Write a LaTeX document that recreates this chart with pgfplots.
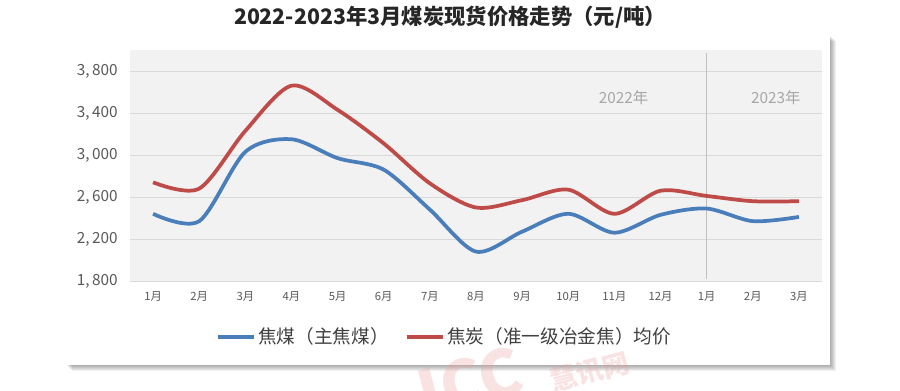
\documentclass[border=0pt]{standalone}
\usepackage{pgfplots}
\pgfplotsset{compat=1.18}
\usepackage{fontspec}
\setmainfont{Noto Sans CJK SC}
\definecolor{cblue}{HTML}{4A7EBB}
\definecolor{cred}{HTML}{BE4B48}
\definecolor{gridc}{HTML}{D9D9D9}
\definecolor{bgc}{HTML}{F2F2F2}
\definecolor{tickc}{HTML}{595959}
\definecolor{legc}{HTML}{404040}
\definecolor{yearc}{HTML}{A6A6A6}
\definecolor{wm}{HTML}{E8A0A0}
\begin{document}
\begin{tikzpicture}[x=0.75pt,y=0.75pt]
\useasboundingbox (0,0) rectangle (900,390);
\fill[white] (0,0) rectangle (900,390);
\foreach \s in {1,...,6} {\fill[black,opacity=0.06] (66+\s,25-\s) rectangle (830+\s,355-\s);}
\fill[white] (66,25) rectangle (830,355);
\node[font=\fontsize{16}{18}\selectfont\bfseries, text=black!85] at (450,373) {2022-2023年3月煤炭现货价格走势（元/吨）};
\begin{axis}[
  at={(97.5pt,81.75pt)}, anchor=south west, scale only axis,
  width=519pt, height=173.25pt,
  xmin=-0.5, xmax=14.5, ymin=1800, ymax=4000,
  axis background/.style={fill=bgc},
  axis line style={draw=none},
  major tick length=0pt,
  ymajorgrids, grid style={gridc, line width=0.75pt},
  xtick={0,...,14},
  xticklabels={1月,2月,3月,4月,5月,6月,7月,8月,9月,10月,11月,12月,1月,2月,3月},
  ytick={1800,2200,2600,3000,3400,3800},
  yticklabels={{1,\,800},{2,\,200},{2,\,600},{3,\,000},{3,\,400},{3,\,800}},
  xticklabel style={anchor=center, yshift=-11.25pt, font=\fontsize{8.5}{9}\selectfont, text=tickc},
  yticklabel style={anchor=east, inner sep=0pt, xshift=-9pt, font=\fontsize{11.5}{12}\selectfont, text=tickc},
  legend style={at={(0.455,-0.242)}, anchor=center, draw=none, fill=none,
    legend columns=2, font=\fontsize{14}{15}\selectfont, text=legc,
    /tikz/every even column/.append style={column sep=10pt}},
  legend image code/.code={\draw[#1] (0pt,0pt) -- (27pt,0pt);},
  clip=false,
]
\draw[black!25, line width=0.75pt] (axis cs:12,1819) -- (axis cs:12,3971);
\node[text=yearc, font=\fontsize{11.5}{13}\selectfont] at (axis cs:10.2,3543) {2022年};
\node[text=yearc, font=\fontsize{11.5}{13}\selectfont] at (axis cs:13.5,3543) {2023年};
\addplot[cblue, line width=2.8pt, smooth] coordinates {
(0,2440) (1,2370) (2,3030) (3,3150) (4,2970) (5,2860) (6,2480) (7,2080)
(8,2270) (9,2440) (10,2260) (11,2430) (12,2490) (13,2370) (14,2410)};
\addlegendentry{焦煤（主焦煤）}
\addplot[cred, line width=2.8pt, smooth] coordinates {
(0,2740) (1,2680) (2,3230) (3,3660) (4,3430) (5,3110) (6,2730) (7,2500)
(8,2570) (9,2670) (10,2440) (11,2660) (12,2610) (13,2560) (14,2560)};
\addlegendentry{焦炭（准一级冶金焦）均价}
\end{axis}
\begin{scope}
\clip (0,0) rectangle (900,390);
\node[rotate=15, text=wm, opacity=0.3, font=\fontsize{48}{50}\selectfont\bfseries] at (470,8) {ICC};
\node[rotate=15, text=wm, opacity=0.3, font=\fontsize{20}{22}\selectfont\bfseries] at (590,18) {慧讯网};
\end{scope}
\end{tikzpicture}
\end{document}
